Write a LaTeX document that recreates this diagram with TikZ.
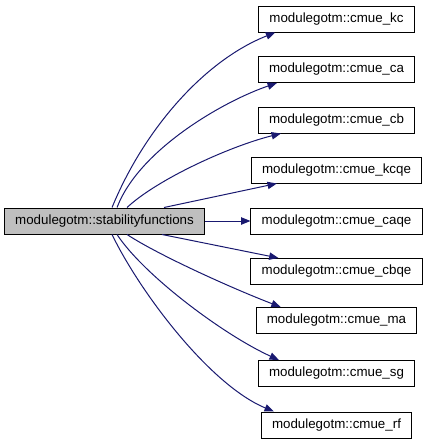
\documentclass[tikz,border=0pt]{standalone}
\usepackage{fontspec}
\setmainfont{Liberation Sans}
\usepackage{xcolor}
\usetikzlibrary{arrows.meta,calc}

\definecolor{edgeblue}{RGB}{25,25,112}
\definecolor{curgray}{RGB}{191,191,191}

\begin{document}
\begin{tikzpicture}[x=0.75pt, y=-0.75pt,
  fn/.style={draw, line width=0.75pt, fill=white, minimum height=19.5pt,
             inner xsep=8pt, inner ysep=0pt, font=\fontsize{10}{12}\selectfont},
  cur/.style={fn, fill=curgray},
  arr/.style={-{Triangle[length=7pt,width=5.5pt]}, edgeblue, line width=0.75pt},
]
\fill[white] (0,0) rectangle (425,443);
\useasboundingbox (0,0) rectangle (425,443);

\node[cur] (sf) at (104.5,221) {modulegotm::stabilityfunctions};

\foreach \n/\y in {kc/19, ca/69.5, cb/120, kcqe/170, caqe/221, cbqe/271.5, ma/320.5, sg/373.5, rf/425}{
  \node[fn] (\n) at (336.5,\y) {modulegotm::cmue\_\n};
}

% calls above
\draw[arr] ($(sf.north west)+(108,0)$) .. controls +(32,-78) and +(-71,28) .. ($(kc.south west)+(17,0)$);
\draw[arr] ($(sf.north west)+(113,0)$) .. controls +(22,-58) and +(-53,18) .. ($(ca.south west)+(19,0)$);
\draw[arr] ($(sf.north west)+(123,0)$) .. controls +(30,-28) and +(-52,13) .. ($(cb.south west)+(23,0)$);
\draw[arr] ($(sf.north west)+(160,0)$) -- ($(kcqe.south west)+(26,0)$);
\draw[arr] (sf.east) -- (caqe.west);

% calls below
\draw[arr] ($(sf.south west)+(158,0)$) -- ($(cbqe.north west)+(28,0)$);
\draw[arr] ($(sf.south west)+(123,0)$) .. controls +(32,21) and +(-47,-18) .. ($(ma.north west)+(25,0)$);
\draw[arr] ($(sf.south west)+(113,0)$) .. controls +(27,41) and +(-55,-25) .. ($(sg.north west)+(21,0)$);
\draw[arr] ($(sf.south west)+(108,0)$) .. controls +(27,56) and +(-65,-27) .. ($(rf.north west)+(13,0)$);
\end{tikzpicture}
\end{document}
